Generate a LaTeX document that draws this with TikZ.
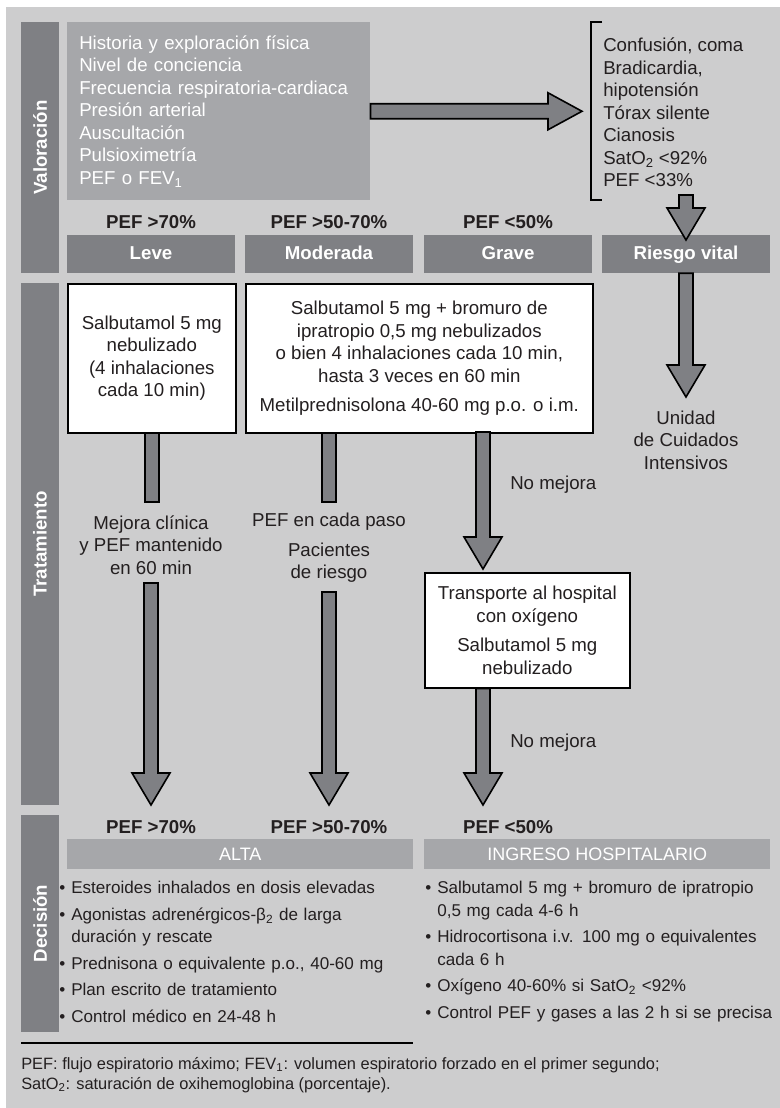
\documentclass[tikz,border=0pt]{standalone}
\usepackage{fontspec}
\setmainfont{Liberation Sans}
\usetikzlibrary{calc,positioning}

\definecolor{bggray}{RGB}{205,205,206}
\definecolor{darkbar}{RGB}{127,128,132}
\definecolor{midbar}{RGB}{166,167,170}
\definecolor{ink}{RGB}{35,31,32}

\newcommand{\bodyfont}{\fontsize{14}{16.9}\selectfont}
\newcommand{\listfont}{\fontsize{12.8}{16.9}\selectfont}
\newcommand{\bul}[1]{\noindent\hangindent=9pt\hangafter=1\makebox[9pt][l]{\textbullet}#1\par\vspace{3pt}}

\begin{document}
\begin{tikzpicture}[
  x=0.75pt, y=-0.75pt,
  txt/.style={font=\bodyfont, text=ink, inner sep=0pt, align=center},
  pef/.style={txt, font=\bodyfont\bfseries, text height=10pt, text depth=0pt},
  sidebar/.style={fill=darkbar, minimum height=28.5pt, inner sep=0pt, rotate=90, text=white, font=\bodyfont\bfseries},
  header/.style={fill=darkbar, minimum width=126pt, minimum height=28.5pt, inner sep=0pt, text=white,
    font=\bodyfont\bfseries, text height=10pt, text depth=2pt},
  whitebox/.style={txt, draw=black, line width=1.2pt, fill=white, anchor=north west, minimum height=111.75pt},
  band/.style={fill=midbar, anchor=north west, minimum width=259.5pt, minimum height=22.5pt, inner sep=0pt, text=white,
    font=\fontsize{13.5}{16}\selectfont, text height=9.7pt, text depth=1pt},
  bullets/.style={anchor=north west, inner sep=0pt, text width=285pt, align=left, text=ink, font=\listfont},
  fatdown/.style={draw=black, line width=1.2pt, fill=darkbar, to path={
    ($(\tikztostart)+(-7,0)$) -- ($(\tikztostart |- \tikztotarget)+(-7,-32)$) -- ++(-12,0)
    -- (\tikztostart |- \tikztotarget) -- ++(19,-32) -- ++(-12,0) -- ($(\tikztostart)+(7,0)$) -- cycle}},
  fatright/.style={draw=black, line width=1.2pt, fill=darkbar, to path={
    ($(\tikztostart)+(0,-7.5)$) -- ($(\tikztotarget |- \tikztostart)+(-34,-7.5)$) -- ++(0,-11)
    -- (\tikztotarget |- \tikztostart) -- ++(-34,18.5) -- ++(0,-11) -- ($(\tikztostart)+(0,7.5)$) -- cycle}},
  stub/.style={draw=black, line width=1.2pt, fill=darkbar, to path={
    ($(\tikztostart)+(-7,0)$) rectangle ($(\tikztostart |- \tikztotarget)+(7,0)$)}},
]
\useasboundingbox (0,0) rectangle (780,1108);
\fill[bggray] (6,7) rectangle (780,1108);

% Side bars
\node[sidebar, minimum width=188.25pt] (valSide) at (40,147.5) {Valoración};
\node[sidebar, minimum width=391.5pt] (tratSide) at (40,544) {Tratamiento};
\node[sidebar, minimum width=162.75pt] (decSide) at (40,923.5) {Decisión};

% Valoracion
\node[anchor=north west, fill=midbar, minimum width=227.25pt, minimum height=133.5pt,
  inner xsep=9pt, inner ysep=0pt, text width=209.25pt, align=left, text=white, font=\bodyfont]
  (valBox) at (67,22) {Historia y exploración física\\Nivel de conciencia\\Frecuencia respiratoria-cardiaca\\
  Presión arterial\\Auscultación\\Pulsioximetría\\PEF o FEV\textsubscript{1}};
\node[txt, anchor=west, align=left] (risk) at (603,112.5) {Confusión, coma\\Bradicardia,\\hipotensión\\
  Tórax silente\\Cianosis\\SatO\textsubscript{2} <92\%\\PEF <33\%};
\draw[line width=1.2pt] (602,22) -- (591,22) -- (591,200) -- (602,200);

\node[pef] (pefLeve) at (151,222) {PEF >70\%};
\node[pef] (pefMod) at (329,222) {PEF >50-70\%};
\node[pef] (pefGrave) at (508,222) {PEF <50\%};

\node[header] (leve) at (151,254) {Leve};
\node[header] (moderada) at (329,254) {Moderada};
\node[header] (grave) at (508,254) {Grave};
\node[header] (riesgo) at (686,254) {Riesgo vital};

\coordinate (riskTip) at (582,110);
\coordinate (rvIn) at (686,195);
\coordinate (rvTip) at (686,240);
\draw[fatright] (valBox.east) to (riskTip);
\draw[fatdown] (rvIn) to (rvTip);

% Tratamiento
\node[whitebox, minimum width=126pt] (leveBox) at (67,283) {Salbutamol 5 mg\\nebulizado\\(4 inhalaciones\\cada 10 min)};
\node[whitebox, minimum width=260.25pt] (modBox) at (245,283) {Salbutamol 5 mg + bromuro de\\
  ipratropio 0,5 mg nebulizados\\o bien 4 inhalaciones cada 10 min,\\hasta 3 veces en 60 min\\[5pt]
  Metilprednisolona 40-60 mg p.o. o i.m.};
\node[txt] (uci) at (686,440) {Unidad\\de Cuidados\\Intensivos};
\coordinate (uciTip) at (686,397);
\draw[fatdown] (riesgo.south) to (uciTip);

\coordinate (leveStub) at (151,502);
\coordinate (modOut) at (modBox.south -| moderada);
\coordinate (modStub) at (329,502);
\draw[stub] (leveBox.south) to (leveStub);
\draw[stub] (modOut) to (modStub);

\node[txt] (leveLbl) at (151,545) {Mejora clínica\\y PEF mantenido\\en 60 min};
\node[txt] (modLbl) at (329,522) {PEF en cada paso};
\node[txt] (riskLbl) at (329,562.5) {Pacientes\\de riesgo};
\node[txt, anchor=west] (noMejora) at (510,485) {No mejora};

\node[whitebox, minimum width=153.75pt, minimum height=86.25pt] (transBox) at (424,572)
  {Transporte al hospital\\con oxígeno\\[5pt]Salbutamol 5 mg\\nebulizado};
\node[txt, anchor=west] (noMejora2) at (510,743) {No mejora};

\coordinate (graveOut) at (483,432);
\coordinate (transIn) at (483,569);
\coordinate (transOut) at (transBox.south -| graveOut);
\coordinate (leveGo) at (151,583);
\coordinate (leveEnd) at (151,805);
\coordinate (modGo) at (329,592);
\coordinate (modEnd) at (329,805);
\coordinate (graveEnd) at (483,805);
\draw[fatdown] (graveOut) to (transIn);
\draw[fatdown] (transOut) to (graveEnd);
\draw[fatdown] (leveGo) to (leveEnd);
\draw[fatdown] (modGo) to (modEnd);

% Decision
\node[pef] (decLeve) at (151,827) {PEF >70\%};
\node[pef] (decMod) at (329,827) {PEF >50-70\%};
\node[pef] (decGrave) at (508,827) {PEF <50\%};
\node[band] (alta) at (67,839) {ALTA};
\node[band] (ingreso) at (424,839) {INGRESO HOSPITALARIO};

\node[bullets] (altaList) at (59,881) {%
  \bul{Esteroides inhalados en dosis elevadas}
  \bul{Agonistas adrenérgicos-β\textsubscript{2} de larga\newline duración y rescate}
  \bul{Prednisona o equivalente p.o., 40-60 mg}
  \bul{Plan escrito de tratamiento}
  \bul{Control médico en 24-48 h}};
\node[bullets] (ingresoList) at (425,881) {%
  \bul{Salbutamol 5 mg + bromuro de ipratropio\newline 0,5 mg cada 4-6 h}
  \bul{Hidrocortisona i.v. 100 mg o equivalentes\newline cada 6 h}
  \bul{Oxígeno 40-60\% si SatO\textsubscript{2} <92\%}
  \bul{Control PEF y gases a las 2 h si se precisa}};

% Footnote
\draw[line width=1.5pt] (21,1043) -- (413,1043);
\node[anchor=north west, inner sep=0pt, align=left, text=ink, font=\fontsize{12.3}{15}\selectfont] (footnote) at (21,1057)
  {PEF: flujo espiratorio máximo; FEV\textsubscript{1}: volumen espiratorio forzado en el primer segundo;\\
  SatO\textsubscript{2}: saturación de oxihemoglobina (porcentaje).};

\end{tikzpicture}
\end{document}
